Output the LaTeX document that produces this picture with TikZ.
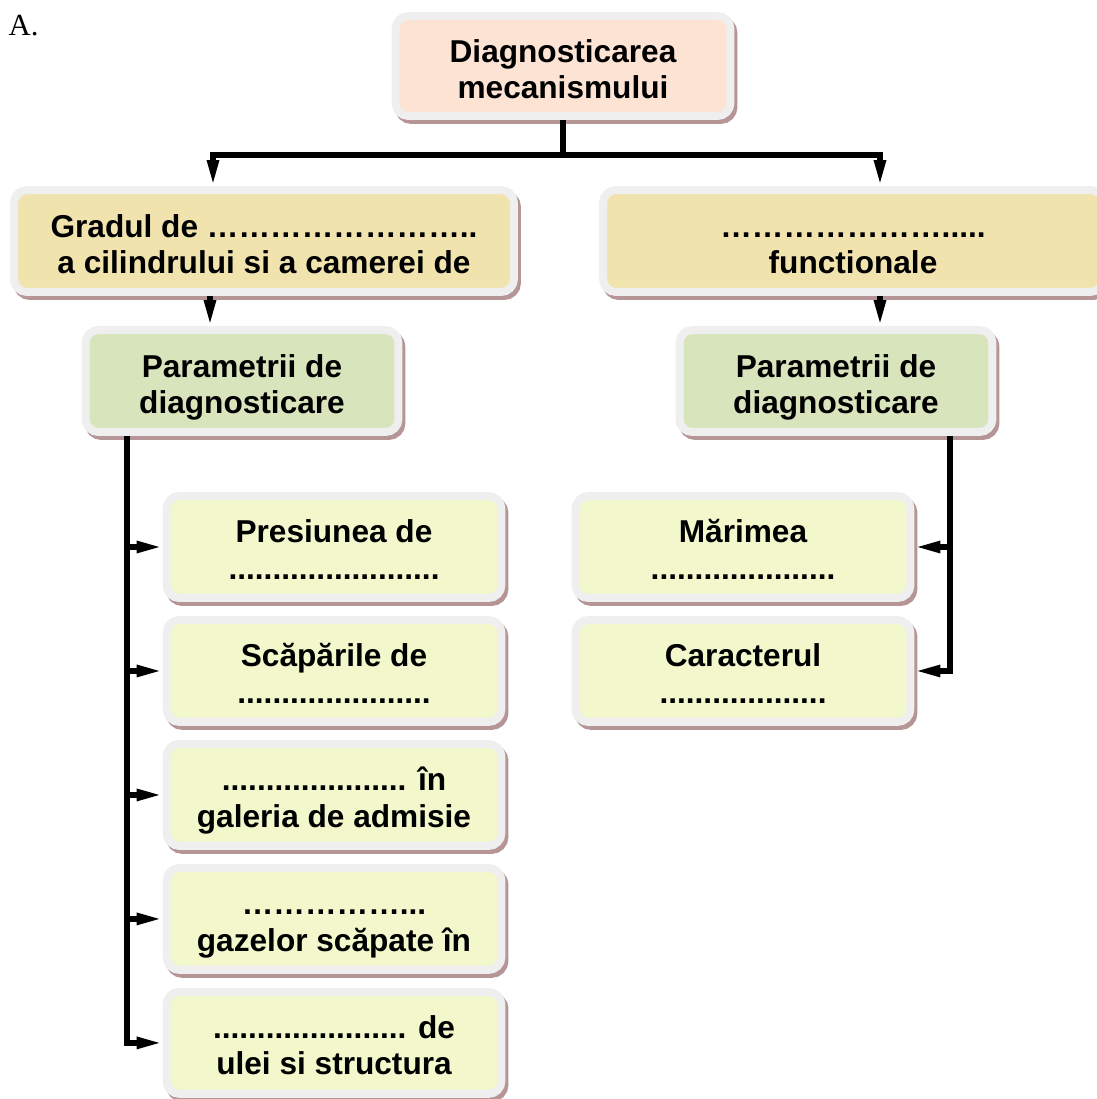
\documentclass[tikz,border=0pt]{standalone}
\usepackage{fontspec}
\setmainfont{Liberation Sans}
\newfontfamily\serifmark{Liberation Serif}
\usepackage{xcolor}
\usepackage{tikz}
\usetikzlibrary{arrows.meta, positioning, shadows}

\definecolor{peachfill}{HTML}{FDE3D3}
\definecolor{tanfill}{HTML}{F1E3AE}
\definecolor{sagefill}{HTML}{D8E4BC}
\definecolor{limefill}{HTML}{F2F7CC}
\definecolor{framegray}{HTML}{EFEFEF}
\definecolor{shadowrose}{HTML}{B59595}

\begin{document}
\begin{tikzpicture}[
		x=0.02cm, y=-0.02cm,
		node distance = 0.28cm,
		>={Triangle[length=0.52cm, width=0.22cm]},
		line width=0.11cm,
		diagbox/.style={
				rectangle,
				align=center,
				inner sep=0pt,
				rounded corners=0.26cm,
				line width=0.16cm,
				draw=framegray,
				font=\fontsize{18}{20.5}\selectfont\bfseries,
				execute at begin node={\rule{0pt}{40.5pt}},
				execute at end node={\rule[-4pt]{0pt}{4pt}},
				drop shadow={
					fill=shadowrose,
					draw=shadowrose,
					opacity=1,
					shadow xshift=0.06cm,
					shadow yshift=-0.08cm
				}
			},
		rootbox/.style={diagbox, fill=peachfill, minimum width=6.7cm, minimum height=2cm},
		areabox/.style={diagbox, fill=tanfill, minimum width=10cm, minimum height=2.04cm},
		parambox/.style={diagbox, fill=sagefill, minimum width=6.26cm, minimum height=2.04cm},
		leafbox/.style={
				diagbox,
				fill=limefill,
				minimum width=6.7cm,
				minimum height=2.04cm,
				font=\fontsize{18}{21}\selectfont\bfseries
			},
		]

		\useasboundingbox (0,0) rectangle (1097,1099);

		\node[font=\serifmark\fontsize{17.5}{20}\selectfont, anchor=base west, inner sep=0pt] (panelmark) at (6,35) {A.};

		\node[rootbox] (root) at (563,66) {Diagnosticarea\\mecanismului};

		\node[areabox] (wear) at (264,241) {Gradul de ……………………..\\a cilindrului si a camerei de};

		\node[areabox] (func) at (853,241) {…{}…{}…{}…{}…{}…{}…{}.....\\functionale};

		\node[parambox] (paramL) at (242,381) {Parametrii de\\diagnosticare};

		\node[parambox] (paramR) at (836,381) {Parametrii de\\diagnosticare};

		\node[leafbox] (pres) at (334,547) {Presiunea de\\........................};
		\node[leafbox, below= of pres] (scap) {Scăpările de\\......................};
		\node[leafbox, below= of scap] (gal) {..................... în\\galeria de admisie};
		\node[leafbox, below= of gal] (gaz) {……………...\\gazelor scăpate în};
		\node[leafbox, below= of gaz] (ulei) {...................... de\\ulei si structura};

		\node[leafbox] (marime) at (743,547) {Mărimea\\.....................};
		\node[leafbox, below= of marime] (caract) {Caracterul\\...................};

		\coordinate (fork) at (563,155);
		\draw (root.south) -- (fork);
		\draw[->] (fork) -| ([xshift=-1.02cm]wear.north);
		\draw[->] (fork) -| ([xshift=0.54cm]func.north);

		\draw[->] ([xshift=-1.08cm]wear.south) -- ([xshift=-1.08cm]wear.south |- paramL.north);
		\draw[->] ([xshift=0.54cm]func.south) -- ([xshift=0.54cm]func.south |- paramR.north);

		\coordinate (busL) at ([xshift=-2.3cm]paramL.south);
		\draw[->] (busL) |- (ulei.west);
		\foreach \leafname in {pres, scap, gal, gaz}
			\draw[->] (busL |- \leafname.west) -- (\leafname.west);

		\coordinate (busR) at ([xshift=2.28cm]paramR.south);
		\draw[->] (busR) |- (caract.east);
		\draw[->] (busR |- marime.east) -- (marime.east);

	\end{tikzpicture}
\end{document}
